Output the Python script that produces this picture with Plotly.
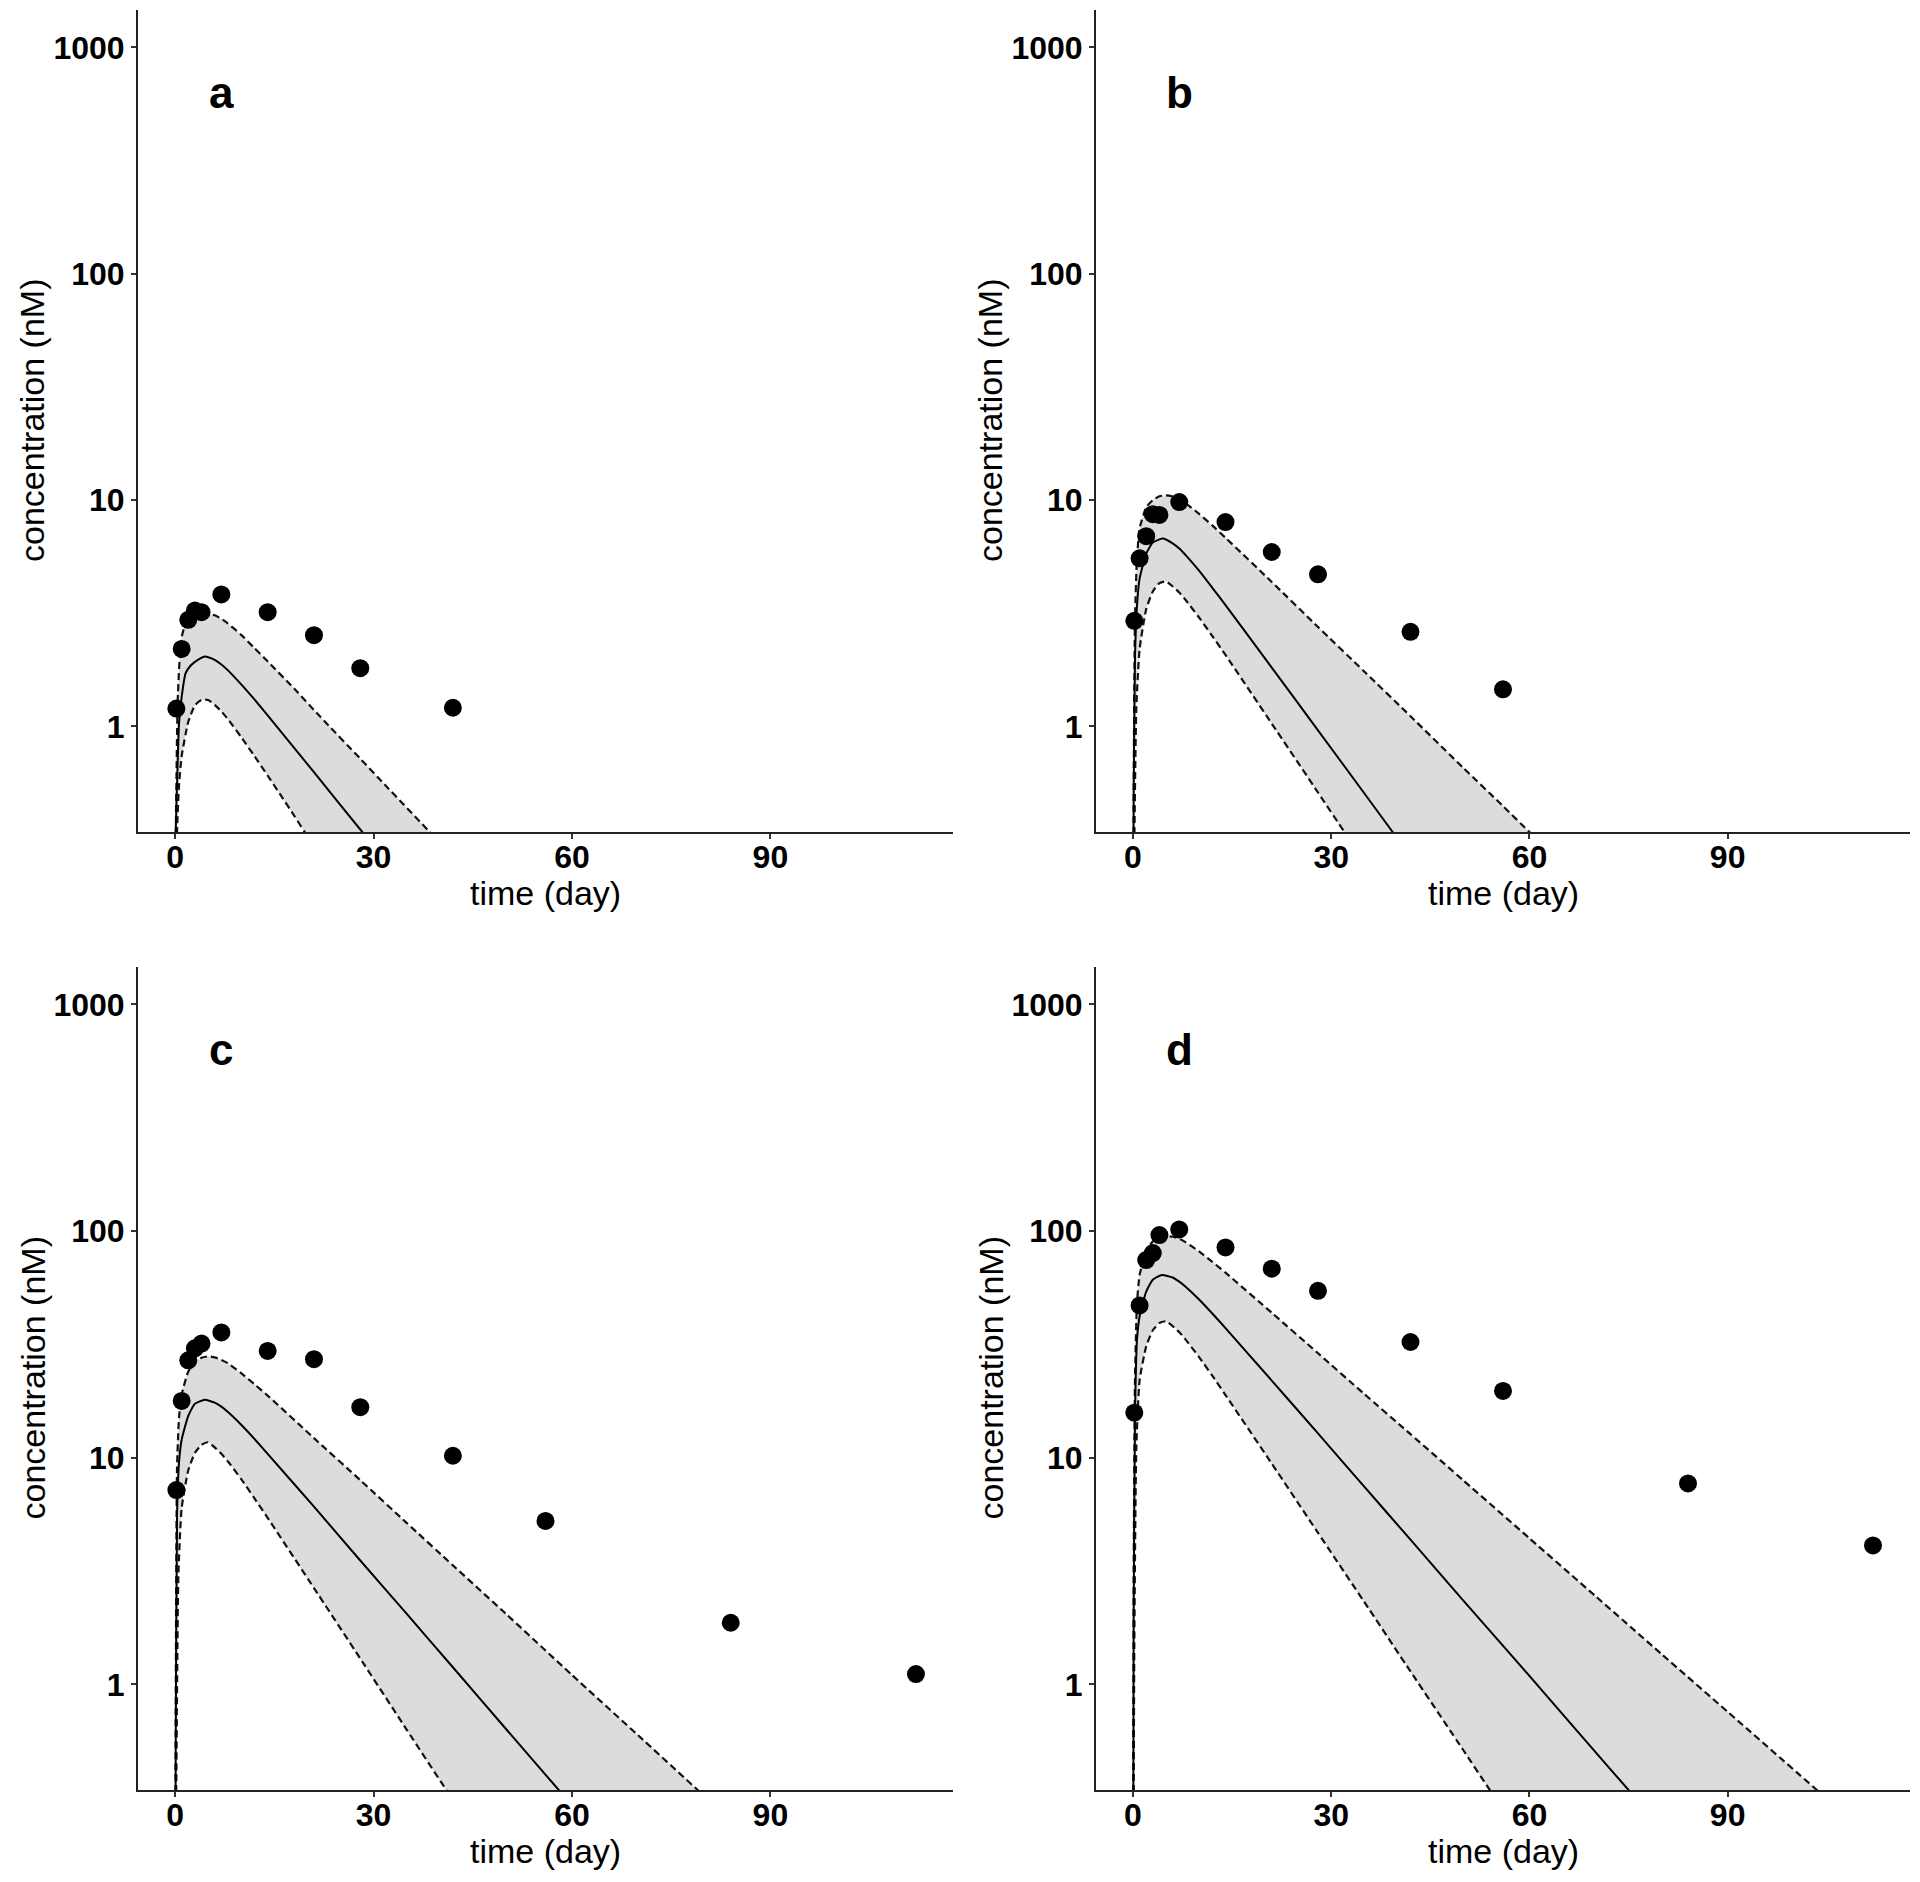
import plotly.graph_objects as go
import math

# ---------------- data ----------------
obs_time = [0.2, 1, 2, 3, 4, 7, 14, 21, 28, 42, 56, 84, 112]
obs_a = [1.2, 2.2, 2.96, 3.25, 3.2, 3.83, 3.2, 2.53, 1.81, 1.21]
obs_b = [2.93, 5.53, 6.93, 8.67, 8.6, 9.8, 8.0, 5.9, 4.7, 2.62, 1.46]
obs_c = [7.2, 17.8, 26.9, 30.4, 31.9, 35.7, 29.6, 27.2, 16.7, 10.2, 5.26, 1.87, 1.11]
obs_d = [15.8, 47, 74.5, 80, 96, 101.7, 84.7, 68.2, 54.5, 32.4, 19.7, 7.7, 4.1]

# model median / upper / lower bands
a_med_t = [0, 0.1, 0.35, 0.6, 1, 1.6, 2.3, 3, 4.5, 6, 7, 8, 10, 12, 14, 21, 28.3, 30]
a_med_v = [0.05, 0.34, 0.62, 1.03, 1.35, 1.72, 1.85, 1.93, 2.04, 1.97, 1.88, 1.77, 1.535, 1.317, 1.12, 0.628, 0.342, 0.296]
a_up_t = [0, 0.1, 0.2, 0.4, 0.9, 1.5, 2.5, 3.3, 4.5, 6, 7, 8, 10, 12, 14, 18, 22, 28, 32, 38.5, 41]
a_up_v = [0.05, 0.3, 0.55, 1.3, 2.4, 2.8, 3.05, 3.12, 3.15, 3.10, 2.99, 2.85, 2.54, 2.22, 1.94, 1.47, 1.10, 0.721, 0.542, 0.342, 0.286]
a_lo_t = [0, 0.3, 0.6, 1, 2, 3, 4, 5, 6, 7, 8, 10, 12, 14, 16, 18, 19.6, 21]
a_lo_v = [0.05, 0.342, 0.55, 0.74, 1.05, 1.24, 1.31, 1.31, 1.245, 1.166, 1.077, 0.898, 0.74, 0.607, 0.496, 0.404, 0.342, 0.296]

b_med_t = [0, 0.1, 0.3, 0.6, 1, 2, 3, 4.5, 6, 7, 8, 10, 12, 14, 21, 28, 35, 39.3, 42]
b_med_v = [0.05, 0.5, 2.0, 3.4, 4.5, 5.8, 6.5, 6.76, 6.44, 6.11, 5.70, 4.88, 4.10, 3.44, 1.82, 0.962, 0.507, 0.342, 0.267]
b_up_t = [0, 0.1, 0.3, 0.6, 1, 2, 3, 4, 5, 6, 7, 8, 10, 12, 14, 21, 28, 35, 42, 50, 56, 60, 63]
b_up_v = [0.05, 0.5, 3.0, 5.5, 7.5, 9.3, 10.0, 10.4, 10.5, 10.37, 10.07, 9.66, 8.69, 7.73, 6.82, 4.35, 2.75, 1.75, 1.11, 0.656, 0.445, 0.342, 0.282]
b_lo_t = [0, 0.2, 0.5, 1, 2, 3, 4, 5, 6, 7, 8, 10, 12, 14, 21, 28, 32, 34]
b_lo_v = [0.05, 0.3, 1.2, 2.2, 3.3, 3.95, 4.3, 4.37, 4.16, 3.91, 3.61, 3.03, 2.51, 2.07, 1.03, 0.511, 0.342, 0.28]

c_med_t = [0, 0.1, 0.3, 0.6, 1, 2, 3, 4.5, 6, 7, 8, 10, 12, 14, 21, 28, 35, 42, 50, 58, 61]
c_med_v = [0.05, 0.5, 5.5, 9.5, 12, 15.3, 17.3, 18, 17.5, 16.8, 15.9, 13.97, 12.1, 10.4, 6.08, 3.52, 2.05, 1.19, 0.637, 0.342, 0.271]
c_up_t = [0, 0.1, 0.3, 0.6, 1, 2, 3, 4, 5, 6, 7, 8, 10, 12, 14, 21, 28, 35, 42, 50, 60, 70, 79, 82]
c_up_v = [0.05, 0.8, 9, 15, 19, 24, 26.5, 27.6, 28, 27.7, 27.0, 26.1, 23.6, 21.1, 18.8, 12.2, 7.96, 5.16, 3.35, 2.05, 1.10, 0.596, 0.342, 0.284]
c_lo_t = [0, 0.2, 0.5, 1, 2, 3, 4, 5, 6, 7, 8, 10, 12, 14, 21, 28, 35, 41, 43]
c_lo_v = [0.05, 0.4, 3, 6, 8.8, 10.5, 11.4, 11.7, 11.1, 10.4, 9.62, 8.04, 6.62, 5.43, 2.66, 1.30, 0.632, 0.342, 0.279]

d_med_t = [0, 0.1, 0.3, 0.6, 1, 2, 3, 4.4, 6, 7, 8, 10, 12, 14, 21, 28, 35, 42, 50, 60, 70, 75, 78]
d_med_v = [0.05, 2, 15, 33, 42, 54, 61, 64, 62.4, 59.8, 56.7, 49.9, 43.3, 37.3, 21.9, 12.8, 7.45, 4.35, 2.34, 1.09, 0.502, 0.342, 0.271]
d_up_t = [0, 0.1, 0.3, 0.6, 1, 2, 3, 4, 5, 6, 7, 8, 10, 12, 14, 21, 28, 35, 42, 50, 60, 70, 80, 90, 103.5, 106]
d_up_v = [0.05, 3, 22, 48, 64, 82, 90, 93.5, 95, 94.4, 92.5, 89.1, 81.3, 73.1, 65.5, 43.6, 28.9, 19.1, 12.7, 7.94, 4.41, 2.45, 1.36, 0.757, 0.342, 0.295]
d_lo_t = [0, 0.2, 0.5, 1, 2, 3, 4, 5, 6, 7, 8, 10, 12, 14, 21, 28, 35, 42, 50, 54, 56]
d_lo_v = [0.05, 1.5, 11, 22, 31, 36.5, 39.3, 40, 38.1, 35.8, 33.1, 27.8, 23.0, 18.9, 9.42, 4.66, 2.31, 1.14, 0.512, 0.342, 0.28]

x_ticks = [0, 30, 60, 90]
y_ticks = [1, 10, 100, 1000]
y_tick_text = ["1", "10", "100", "1000"]
panel_labels = ["a", "b", "c", "d"]
x_title = "time (day)"
y_title = "concentration (nM)"

panels = [
    (obs_a, a_med_t, a_med_v, a_up_t, a_up_v, a_lo_t, a_lo_v),
    (obs_b, b_med_t, b_med_v, b_up_t, b_up_v, b_lo_t, b_lo_v),
    (obs_c, c_med_t, c_med_v, c_up_t, c_up_v, c_lo_t, c_lo_v),
    (obs_d, d_med_t, d_med_v, d_up_t, d_up_v, d_lo_t, d_lo_v),
]

# ---------------- layout geometry ----------------
# page has an 8px body margin; figure is sized so it fits the 1920x1882 window
OFF = 8
W, H = 1920 - 2 * OFF, 1882 - 2 * OFF


def px_x(p):
    return (p - OFF) / W


def px_y(p):
    return (H - (p - OFF)) / H


x_px = [(138, 953), (1096, 1910)]
y_px = [(10, 832), (967, 1790)]
x_doms = [(px_x(a), px_x(b)) for a, b in x_px]
y_doms = [(px_y(b), px_y(a)) for a, b in y_px]

FONT = "Liberation Sans, Arial, sans-serif"
BAND = "#DCDCDC"

fig = go.Figure()
layout = dict(
    width=W, height=H,
    margin=dict(l=0, r=0, t=0, b=0),
    paper_bgcolor="white", plot_bgcolor="white",
    showlegend=False,
    font=dict(family=FONT, color="black"),
)
annotations = []

xr = [-5.6, 117.6]
yr = [math.log10(0.5) - 0.05 * 3.30103, 3 + 0.05 * 3.30103]

for i, (obs, mt, mv, ut, uv, lt, lv) in enumerate(panels):
    row, col = divmod(i, 2)
    n = i + 1
    xa = "x" if n == 1 else f"x{n}"
    ya = "y" if n == 1 else f"y{n}"
    # band
    fig.add_trace(go.Scatter(
        x=ut + lt[::-1], y=uv + lv[::-1], xaxis=xa, yaxis=ya,
        mode="lines", fill="toself", fillcolor=BAND,
        line=dict(width=0, color=BAND, shape="spline", smoothing=0.5), hoverinfo="skip"))
    # upper / lower dashed
    for tt, vv in ((ut, uv), (lt, lv)):
        fig.add_trace(go.Scatter(
            x=tt, y=vv, xaxis=xa, yaxis=ya, mode="lines",
            line=dict(color="#111111", width=2.2, dash="7px,4px", shape="spline", smoothing=0.5)))
    # median
    fig.add_trace(go.Scatter(
        x=mt, y=mv, xaxis=xa, yaxis=ya, mode="lines",
        line=dict(color="black", width=2, shape="spline", smoothing=0.5)))
    # observed
    fig.add_trace(go.Scatter(
        x=obs_time[:len(obs)], y=obs, xaxis=xa, yaxis=ya, mode="markers",
        marker=dict(color="black", size=18, line=dict(width=0))))

    axis_common = dict(
        showline=True, linecolor="#222222", linewidth=2,
        ticks="outside", ticklen=5, tickwidth=2, tickcolor="#333333",
        showgrid=False, zeroline=False,
        tickfont=dict(family=FONT, size=32, color="black", weight="bold"),
    )
    xkey = "xaxis" if n == 1 else f"xaxis{n}"
    ykey = "yaxis" if n == 1 else f"yaxis{n}"
    layout[xkey] = dict(axis_common, domain=x_doms[col], anchor=ya, range=xr,
                        tickvals=x_ticks, ticklabelstandoff=-9)
    layout[ykey] = dict(axis_common, domain=y_doms[row], anchor=xa, type="log", range=yr,
                        tickvals=y_ticks, ticktext=y_tick_text)
    # panel letter
    annotations.append(dict(
        x=7, y=math.log10(630), xref=xa, yref=ya, text=f"<b>{panel_labels[i]}</b>",
        showarrow=False, font=dict(family=FONT, size=44, color="black"),
        xanchor="center", yanchor="middle"))
    # axis titles
    x0, x1 = x_px[col]
    y0, y1 = y_px[row]
    annotations.append(dict(
        x=px_x((x0 + x1) / 2), y=px_y(y1 + 61), xref="paper", yref="paper",
        text=x_title, showarrow=False, font=dict(family=FONT, size=34, color="black"),
        xanchor="center", yanchor="middle"))
    annotations.append(dict(
        x=px_x(x0 - 106), y=px_y((y0 + y1) / 2), xref="paper", yref="paper",
        text=y_title, showarrow=False, textangle=-90,
        font=dict(family=FONT, size=34, color="black"),
        xanchor="center", yanchor="middle"))

layout["annotations"] = annotations
fig.update_layout(**layout)
fig.write_html("out.html")
